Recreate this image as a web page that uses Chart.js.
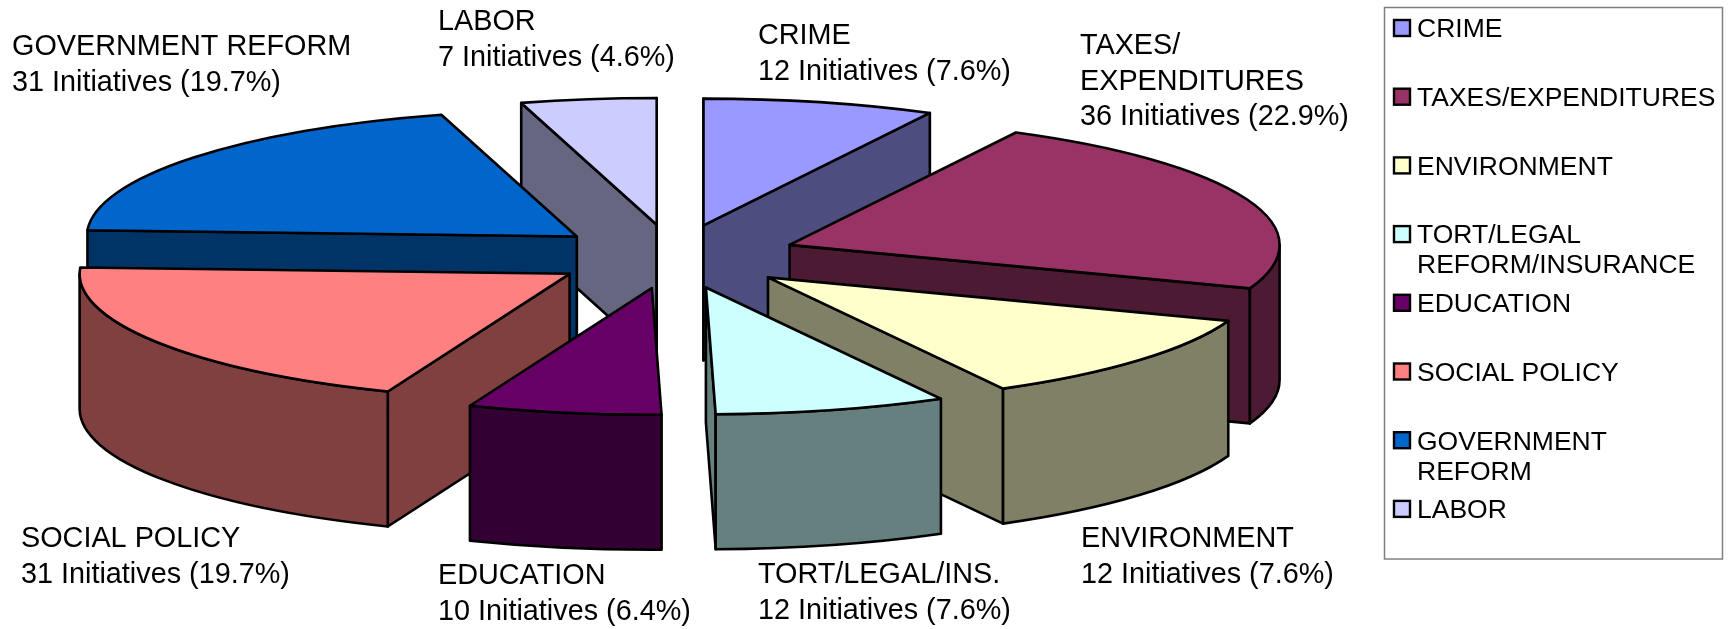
<!DOCTYPE html>
<html>
<head>
<meta charset="utf-8">
<style>html,body{margin:0;padding:0;background:#fff}canvas{display:block}</style>
<script src="https://cdn.jsdelivr.net/npm/chart.js@4/dist/chart.umd.min.js"></script>
</head>
<body>
<canvas id="c" width="1735" height="629"></canvas>
<script>
const categories = ['CRIME','TAXES/EXPENDITURES','ENVIRONMENT','TORT/LEGAL REFORM/INSURANCE','EDUCATION','SOCIAL POLICY','GOVERNMENT REFORM','LABOR'];
const initiatives = [12,36,18,12,10,31,31,7];
const topColors = ['#9999FF','#993366','#FFFFCC','#CCFFFF','#660066','#FF8080','#0066CC','#CCCCFF'];
const sideColors = ['#4D4D80','#4D1A33','#808066','#668080','#330033','#804040','#003366','#666680'];
const legendLines = [['CRIME'],['TAXES/EXPENDITURES'],['ENVIRONMENT'],['TORT/LEGAL','REFORM/INSURANCE'],['EDUCATION'],['SOCIAL POLICY'],['GOVERNMENT','REFORM'],['LABOR']];
const sliceLabels = [
  ['CRIME','12 Initiatives (7.6%)'],
  ['TAXES/','EXPENDITURES','36 Initiatives (22.9%)'],
  ['ENVIRONMENT','12 Initiatives (7.6%)'],
  ['TORT/LEGAL/INS.','12 Initiatives (7.6%)'],
  ['EDUCATION','10 Initiatives (6.4%)'],
  ['SOCIAL POLICY','31 Initiatives (19.7%)'],
  ['GOVERNMENT REFORM','31 Initiatives (19.7%)'],
  ['LABOR','7 Initiatives (4.6%)']
];
const labelAnchorX = [758,1080,1081,758,438,21,12,438];
const labelAnchorY = [44,54,547,583,584,547,55,30];

const FONT = '"Liberation Sans", Arial, sans-serif';
const RADIUS = 490, SQUASH = 0.2587, DEPTH = 135, EXPLODE = 124, STROKE = 2.6;

function placed(ctx, arc, dz) {
  const mid = (arc.startAngle + arc.endAngle) / 2;
  ctx.translate(arc.x, arc.y + (dz || 0));
  ctx.scale(1, SQUASH);
  ctx.translate(Math.cos(mid) * EXPLODE - arc.x, Math.sin(mid) * EXPLODE - arc.y);
}
function paint(ctx, fill) {
  ctx.fillStyle = fill;
  ctx.fill();
  ctx.stroke();
}
function cutWall(ctx, arc, angle, fill) {
  const px = arc.x + Math.cos(angle) * arc.outerRadius, py = arc.y + Math.sin(angle) * arc.outerRadius;
  ctx.save(); placed(ctx, arc);
  ctx.beginPath(); ctx.moveTo(arc.x, arc.y); ctx.lineTo(px, py);
  ctx.restore();
  ctx.save(); placed(ctx, arc, DEPTH);
  ctx.lineTo(px, py); ctx.lineTo(arc.x, arc.y);
  ctx.restore();
  ctx.closePath();
  paint(ctx, fill);
}
function outerWall(ctx, arc, a0, a1, fill) {
  ctx.save(); placed(ctx, arc);
  ctx.beginPath(); ctx.arc(arc.x, arc.y, arc.outerRadius, a0, a1);
  ctx.restore();
  ctx.save(); placed(ctx, arc, DEPTH);
  ctx.arc(arc.x, arc.y, arc.outerRadius, a1, a0, true);
  ctx.restore();
  ctx.closePath();
  paint(ctx, fill);
}

const pie3d = {
  id: 'pie3d',
  beforeDatasetDraw(chart, args) {
    const ctx = chart.ctx;
    const arcs = args.meta.data;
    const depthOf = i => Math.sin((arcs[i].startAngle + arcs[i].endAngle) / 2);
    const order = arcs.map((_, i) => i).sort((a, b) => depthOf(a) - depthOf(b));
    ctx.save();
    ctx.lineWidth = STROKE; ctx.strokeStyle = '#000'; ctx.lineJoin = 'round';
    order.forEach(i => {
      const arc = arcs[i], eps = 1e-6;
      if (Math.cos(arc.startAngle) < eps) cutWall(ctx, arc, arc.startAngle, sideColors[i]);
      if (Math.cos(arc.endAngle) > -eps) cutWall(ctx, arc, arc.endAngle, sideColors[i]);
      const a0 = Math.max(arc.startAngle, 0), a1 = Math.min(arc.endAngle, Math.PI);
      if (a1 > a0) outerWall(ctx, arc, a0, a1, sideColors[i]);
    });
    order.forEach(i => {
      const arc = arcs[i];
      ctx.save(); placed(ctx, arc);
      arc.draw(ctx, chart.chartArea);
      ctx.beginPath();
      ctx.moveTo(arc.x, arc.y);
      ctx.arc(arc.x, arc.y, arc.outerRadius, arc.startAngle, arc.endAngle);
      ctx.closePath();
      ctx.restore();
      ctx.stroke();
    });
    ctx.restore();
    return false;
  },
  afterDraw(chart) {
    const ctx = chart.ctx;
    ctx.save();
    ctx.fillStyle = '#000'; ctx.textAlign = 'left'; ctx.textBaseline = 'alphabetic';
    ctx.font = '28.8px ' + FONT;
    sliceLabels.forEach((lines, i) => lines.forEach((t, k) => ctx.fillText(t, labelAnchorX[i], labelAnchorY[i] + k * 35.5)));
    // legend frame and entries
    ctx.strokeStyle = '#808080'; ctx.lineWidth = 1.5;
    ctx.strokeRect(1384.5, 7.5, 338, 551.5);
    ctx.font = '26.5px ' + FONT;
    legendLines.forEach((lines, i) => {
      const rowY = 28 + i * 68.7;
      ctx.fillStyle = topColors[i]; ctx.strokeStyle = '#000'; ctx.lineWidth = 2.4;
      ctx.fillRect(1394, rowY - 8, 16, 16); ctx.strokeRect(1394, rowY - 8, 16, 16);
      ctx.fillStyle = '#000';
      lines.forEach((t, k) => ctx.fillText(t, 1417, rowY + 9.3 + k * 30));
    });
    ctx.restore();
  }
};

new Chart(document.getElementById('c'), {
  type: 'pie',
  plugins: [pie3d],
  data: {
    labels: categories,
    datasets: [{ data: initiatives, backgroundColor: topColors, borderWidth: 0 }]
  },
  options: {
    responsive: false,
    animation: false,
    radius: RADIUS,
    layout: { padding: { left: 0, top: 0, right: 387, bottom: 116 } },
    plugins: { legend: { display: false }, tooltip: { enabled: false } }
  }
});
</script>
</body>
</html>
